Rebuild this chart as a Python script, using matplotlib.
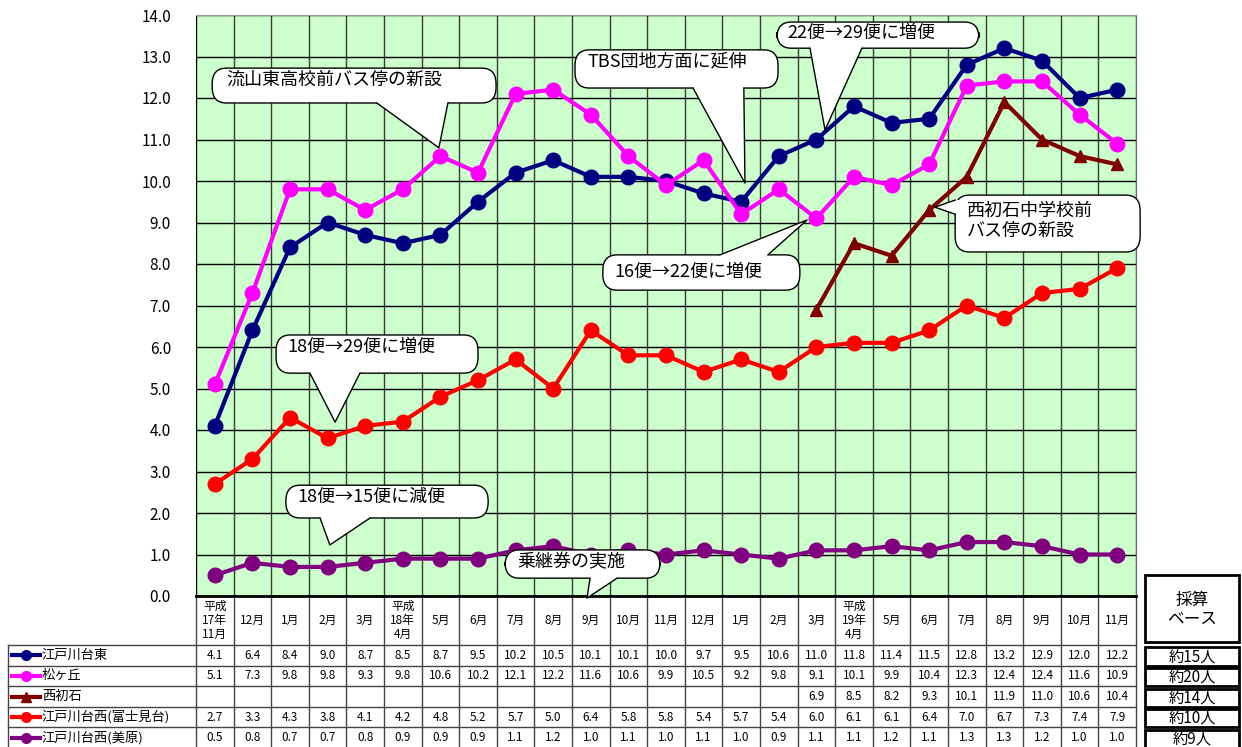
import numpy as np
import matplotlib
matplotlib.use("Agg")
import matplotlib.pyplot as plt
from matplotlib.patches import FancyBboxPatch, Polygon, Rectangle

plt.rcParams['font.family'] = ['Noto Sans CJK JP', 'DejaVu Sans']

months = ["平成\n17年\n11月", "12月", "1月", "2月", "3月", "平成\n18年\n4月", "5月", "6月",
          "7月", "8月", "9月", "10月", "11月", "12月", "1月", "2月", "3月",
          "平成\n19年\n4月", "5月", "6月", "7月", "8月", "9月", "10月", "11月"]

higashi = [4.1, 6.4, 8.4, 9.0, 8.7, 8.5, 8.7, 9.5, 10.2, 10.5, 10.1, 10.1, 10.0,
           9.7, 9.5, 10.6, 11.0, 11.8, 11.4, 11.5, 12.8, 13.2, 12.9, 12.0, 12.2]
matsugaoka = [5.1, 7.3, 9.8, 9.8, 9.3, 9.8, 10.6, 10.2, 12.1, 12.2, 11.6, 10.6, 9.9,
              10.5, 9.2, 9.8, 9.1, 10.1, 9.9, 10.4, 12.3, 12.4, 12.4, 11.6, 10.9]
nishihatsu = [None] * 16 + [6.9, 8.5, 8.2, 9.3, 10.1, 11.9, 11.0, 10.6, 10.4]
fujimi = [2.7, 3.3, 4.3, 3.8, 4.1, 4.2, 4.8, 5.2, 5.7, 5.0, 6.4, 5.8, 5.8,
          5.4, 5.7, 5.4, 6.0, 6.1, 6.1, 6.4, 7.0, 6.7, 7.3, 7.4, 7.9]
mihara = [0.5, 0.8, 0.7, 0.7, 0.8, 0.9, 0.9, 0.9, 1.1, 1.2, 1.0, 1.1, 1.0,
          1.1, 1.0, 0.9, 1.1, 1.1, 1.2, 1.1, 1.3, 1.3, 1.2, 1.0, 1.0]

names = ["江戸川台東", "松ヶ丘", "西初石", "江戸川台西(富士見台)", "江戸川台西(美原)"]
series = [higashi, matsugaoka, nishihatsu, fujimi, mihara]
colors = ["#000080", "#FF00FF", "#800000", "#FF0000", "#800080"]
markers = ["o", "o", "^", "o", "o"]
base_line = ["約15人", "約20人", "約14人", "約10人", "約9人"]

fig = plt.figure(figsize=(12.42, 7.47), dpi=100)
ax = fig.add_axes([196 / 1242, 1 - 596 / 747, 940 / 1242, 581 / 747])
ax.set_facecolor("#CCFFCC")

x = np.arange(len(months))
for vals, c, m in zip(series, colors, markers):
    y = np.array([np.nan if v is None else v for v in vals])
    ms = 9 if m == "^" else 10.5
    ax.plot(x, y, color=c, lw=3, marker=m, ms=ms, zorder=4, clip_on=False)

ax.set_xlim(-0.5, len(months) - 0.5)
ax.set_ylim(0, 14)
ax.set_yticks(np.arange(0, 15, 1))
ax.set_yticklabels([f"{v:.1f}" for v in range(15)], fontsize=11)
ax.set_xticks([])
ax.set_xticks(np.arange(-0.5, len(months), 1), minor=True)
ax.tick_params(axis="y", length=0, pad=18)
ax.tick_params(axis="x", which="both", length=0, labelbottom=False)
ax.grid(axis="y", color="black", lw=1, zorder=1)
ax.grid(axis="x", which="minor", color="#3a3a3a", lw=1, zorder=1)
ax.set_axisbelow(True)
ax.spines["top"].set_color("#999999")
ax.spines["right"].set_color("#666666")
ax.spines["left"].set_color("black")
ax.spines["bottom"].set_color("black")
ax.spines["bottom"].set_linewidth(2)


def callout(box, base, tip, text, tpos, side="bottom"):
    x0, y0, x1, y1 = box
    ax.add_patch(FancyBboxPatch((x0, y0), x1 - x0, y1 - y0,
                                boxstyle="round,pad=0,rounding_size=0.38",
                                fc="white", ec="black", lw=1, zorder=6, clip_on=False))
    a, b = base
    if side == "bottom":
        p1, p2 = (a, y0), (b, y0)
        q1, q2 = (a, y0 + 0.1), (b, y0 + 0.1)
    elif side == "top":
        p1, p2 = (a, y1), (b, y1)
        q1, q2 = (a, y1 - 0.1), (b, y1 - 0.1)
    else:
        p1, p2 = (x0, a), (x0, b)
        q1, q2 = (x0 + 0.1, a), (x0 + 0.1, b)
    ax.add_patch(Polygon([q1, p1, tip, p2, q2], closed=True, fc="white", ec="none",
                         zorder=7, clip_on=False))
    ax.plot([p1[0], tip[0], p2[0]], [p1[1], tip[1], p2[1]], color="black", lw=1,
            zorder=7, clip_on=False)
    ax.text(tpos[0], tpos[1], text, fontsize=13, ha="left", va="center",
            zorder=8, linespacing=1.15)


callout((-0.07, 11.88, 7.48, 12.72), (4.31, 6.20), (5.96, 10.80),
        "流山東高校前バス停の新設", (0.32, 12.43))
callout((9.58, 12.24, 14.98, 13.16), (12.72, 14.07), (14.10, 9.95),
        "TBS団地方面に延伸", (9.90, 12.87))
callout((14.95, 13.20, 20.32, 13.83), (15.83, 17.21), (16.23, 11.23),
        "22便→29便に増便", (15.22, 13.57))
callout((19.69, 8.29, 24.61, 9.66), (9.54, 9.20), (19.15, 9.37),
        "西初石中学校前\nバス停の新設", (20.0, 9.05), side="left")
callout((10.32, 7.37, 15.56, 8.22), (13.44, 14.71), (15.75, 9.06),
        "16便→22便に増便", (10.64, 7.81), side="top")
callout((1.63, 5.37, 7.0, 6.29), (2.53, 3.86), (3.20, 4.19),
        "18便→29便に増便", (1.92, 6.0))
callout((1.89, 1.88, 7.27, 2.67), (2.80, 4.13), (3.06, 1.23),
        "18便→15便に減便", (2.19, 2.39))
callout((7.72, 0.43, 11.84, 1.11), (9.98, 10.70), (9.90, -0.05),
        "乗継券の実施", (8.04, 0.82))

# data table under the chart
tr = ax.get_xaxis_transform()
hdr = -49 / 581
rows = [hdr - i * 20.6 / 581 for i in range(6)]
n = len(months)
lc = "#444444"
for i in range(n + 1):
    ax.plot([i - 0.5, i - 0.5], [0, rows[-1]], color=lc, lw=1, transform=tr, clip_on=False)
ax.plot([-5.5, -5.5], [rows[0], rows[-1]], color=lc, lw=1, transform=tr, clip_on=False)
for r in rows[:-1]:
    ax.plot([-5.5, n - 0.5], [r, r], color=lc, lw=1, transform=tr, clip_on=False)
for i, lab in enumerate(months):
    ax.text(i, hdr / 2, lab, transform=tr, ha="center", va="center", fontsize=8.5,
            linespacing=1.1)
for k, (nm, vals, c, m) in enumerate(zip(names, series, colors, markers)):
    yc = (rows[k] + rows[k + 1]) / 2
    ax.plot([-5.39, -4.65], [yc, yc], color=c, lw=3, transform=tr, clip_on=False)
    ax.plot([-5.02], [yc], color=c, marker=m, ms=7, transform=tr, clip_on=False)
    ax.text(-4.6, yc, nm, transform=tr, ha="left", va="center", fontsize=9.5)
    for i, v in enumerate(vals):
        if v is not None:
            ax.text(i, yc, f"{v:.1f}", transform=tr, ha="center", va="center", fontsize=8.5)

# 採算ベース box
bx0, bx1 = 24.74, 27.24
ax.add_patch(Rectangle((bx0, rows[0] + 0.005), bx1 - bx0, 0.036 - rows[0] - 0.005,
                       transform=tr, fill=False, ec="black", lw=2, clip_on=False))
ax.text((bx0 + bx1) / 2, (0.036 + rows[0]) / 2, "採算\nベース", transform=tr,
        ha="center", va="center", fontsize=12, linespacing=1.2)
for k, t in enumerate(base_line):
    ax.add_patch(Rectangle((bx0, rows[k + 1]), bx1 - bx0, rows[k] - rows[k + 1] - 0.004,
                           transform=tr, fill=False, ec="black", lw=2, clip_on=False))
    ax.text((bx0 + bx1) / 2, (rows[k] + rows[k + 1]) / 2 - 0.004, t, transform=tr,
            ha="center", va="center", fontsize=11)

fig.savefig("out.png", dpi=100)
